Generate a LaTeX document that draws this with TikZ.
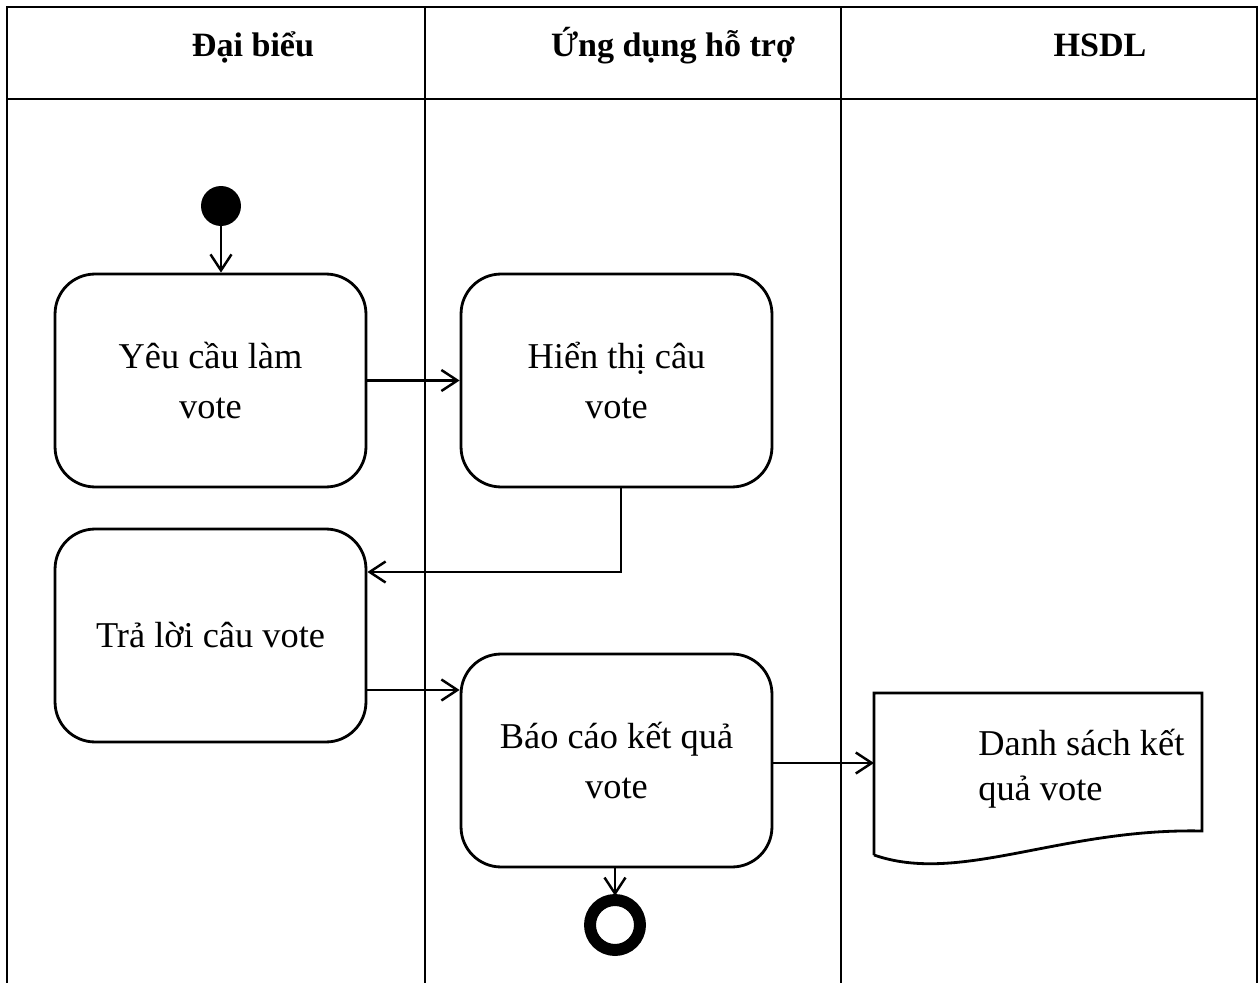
\documentclass[tikz,border=0pt]{standalone}
\usepackage{fontspec}
\setmainfont{Liberation Serif}
\usetikzlibrary{arrows.meta,positioning}
\tikzset{
	lane/.style={line width=1.3pt},
	action/.style={draw, line width=1.6pt, rounded corners=0.8cm, minimum width=6.22cm, minimum height=4.26cm, align=center, font=\fontsize{20.7}{28.5}\selectfont},
	lanehead/.style={anchor=base, font=\fontsize{19.4}{24}\selectfont\bfseries},
	flow/.style={line width=1.4pt, -{Straight Barb[length=0.32cm, width=0.42cm, line width=1.4pt]}}
}

\begin{document}
\begin{tikzpicture}[x=0.02cm, y=-0.02cm]
			%%%%% START %%%%%
			\useasboundingbox (0, 0) rectangle (1258, 983);
			
			% swimlanes
			\draw[lane] (7, 983) -- (7, 7) -- (1257, 7) -- (1257, 983);
			\draw[lane] (7, 99) -- (1257, 99);
			\draw[lane] (425, 7) -- (425, 983);
			\draw[lane] (841, 7) -- (841, 983);
			\node[lanehead] (h1) at (253, 57) {Đại biểu};
			\node[lanehead] (h2) at (673, 57) {Ứng dụng hỗ trợ};
			\node[lanehead] (h3) at (1100, 57) {HSDL};
			
			% start
			\fill[black!12] (221, 206) circle (0.56);
			\node[circle, fill=black, minimum size=0.8cm, inner sep=0pt] (start) at (221, 206) {};
			
			\node[action] (ask) at (210.5, 380.5) {Yêu cầu làm\\vote};
			\node[action] (show) at (616.5, 380.5) {Hiển thị câu\\vote};
			\node[action] (answer) at (210.5, 635.5) {Trả lời câu vote};
			\node[action] (report) at (616.5, 760.5) {Báo cáo kết quả\\vote};
			
			% document
			\coordinate (dnw) at (874, 693);
			\coordinate (dne) at (1202, 693);
			\coordinate (dse) at (1202, 831);
			\coordinate (dsw) at (874, 855);
			\draw[line width=1.6pt] (dsw) -- (dnw) -- (dne) -- (dse) .. controls (1060, 828) and (960, 885) .. (dsw);
			\coordinate (din) at (874, 763);
			\node[anchor=west, align=left, inner sep=0pt, font=\fontsize{20.7}{25.6}\selectfont] (list) at (978, 769) {Danh sách kết\\quả vote};
			
			% end
			\node[circle, draw=black, line width=6.8pt, fill=white, minimum size=1.0cm, inner sep=0pt] (stop) at (615, 925) {};
			
			% flows
			\draw[flow] (start) -- (start |- ask.north);
			\draw[flow] (ask) -- (show);
			\draw[flow] (show.south -| 621, 0) |- (answer.east |- 0, 572);
			\draw[flow] (answer.east |- 0, 690) -- (report.west |- 0, 690);
			\draw[flow] (report.east |- din) -- (din);
			\draw[flow] (report.south -| stop) -- ([yshift=-1pt]stop.north);
			
			%%%%% END %%%%%
		\end{tikzpicture}
\end{document}
